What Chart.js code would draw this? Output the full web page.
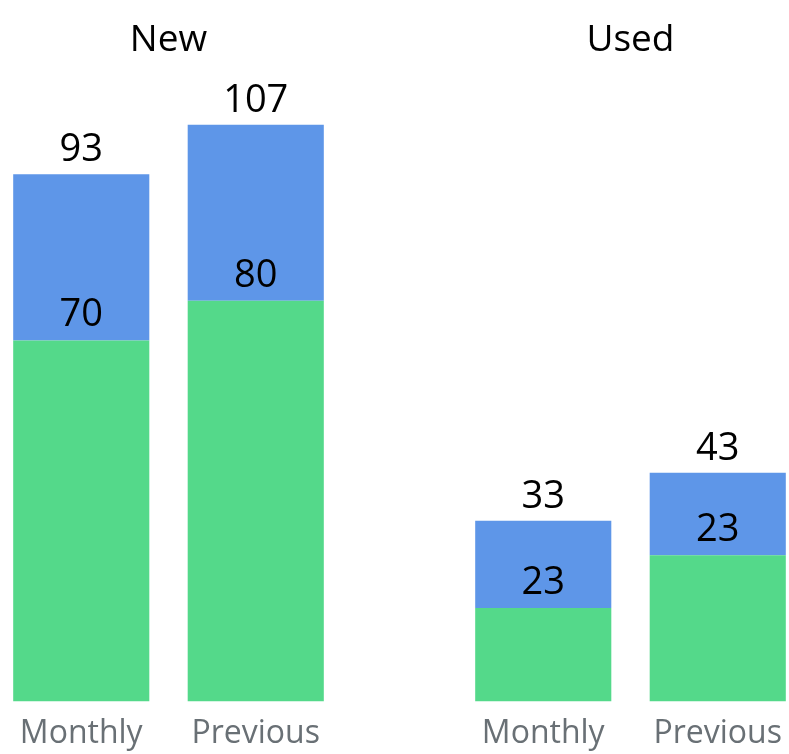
<!DOCTYPE html>
<html>
<head>
<meta charset="utf-8">
<script src="https://cdn.jsdelivr.net/npm/chart.js@4/dist/chart.umd.min.js"></script>
<style>
  html, body { margin: 0; padding: 0; background: #fff; overflow: hidden; width: 789px; height: 754px; }
  .wrap { position: absolute; top: 0; width: 349px; height: 766px; }
  #new-wrap { left: -6px; }
  #used-wrap { left: 456px; }
</style>
</head>
<body>
<div class="wrap" id="new-wrap"><canvas id="new-chart" width="349" height="766"></canvas></div>
<div class="wrap" id="used-wrap"><canvas id="used-chart" width="349" height="766"></canvas></div>
<script>
const categories = ["Monthly", "Previous"];
const groupTitles = ["New", "Used"];

// segment heights
const newGreen = [67.1, 74.5];
const newBlue = [30.9, 32.7];
const usedGreen = [17.4, 27.2];
const usedBlue = [16.2, 15.3];

// numbers printed on the bars
const newTotalLabels = ["93", "107"];
const newGreenLabels = ["70", "80"];
const usedTotalLabels = ["33", "43"];
const usedGreenLabels = ["23", "23"];

const FONT = "'Open Sans', sans-serif";

// draws the total above each bar and the green value just above the green part
const barLabels = {
    id: "barLabels",
    afterDatasetsDraw(chart, args, opts) {
        const ctx = chart.ctx;
        const green = chart.getDatasetMeta(0).data;
        const blue = chart.getDatasetMeta(1).data;
        ctx.save();
        ctx.font = "38px " + FONT;
        ctx.fillStyle = "#000";
        ctx.textAlign = "center";
        ctx.textBaseline = "alphabetic";
        green.forEach((bar, i) => {
            ctx.fillText(opts.greenLabels[i], bar.x, bar.y - 14);
            ctx.fillText(opts.totalLabels[i], blue[i].x, blue[i].y - 13);
        });
        ctx.restore();
    }
};

function makeChart(id, title, green, blue, totalLabels, greenLabels) {
    const ctx = document.getElementById(id).getContext("2d");
    return new Chart(ctx, {
        type: "bar",
        data: {
            labels: categories,
            datasets: [
                { data: green, backgroundColor: "#54D98A", borderWidth: 0 },
                { data: blue, backgroundColor: "#5E96E8", borderWidth: 0 }
            ]
        },
        options: {
            responsive: false,
            animation: false,
            categoryPercentage: 1,
            barPercentage: 0.78,
            layout: { padding: 0 },
            scales: {
                x: {
                    stacked: true,
                    offset: true,
                    grid: { display: false, drawTicks: false },
                    border: { display: false },
                    ticks: {
                        color: "#697075",
                        font: { family: FONT, size: 32 },
                        padding: 13,
                        maxRotation: 0,
                        autoSkip: false
                    }
                },
                y: { stacked: true, display: false, min: 0, max: 110 }
            },
            plugins: {
                legend: { display: false },
                tooltip: { enabled: false },
                title: {
                    display: true,
                    text: title,
                    color: "#000",
                    font: { family: FONT, size: 37, weight: "normal" },
                    padding: { top: 18, bottom: 47.2 }
                },
                barLabels: { totalLabels: totalLabels, greenLabels: greenLabels }
            }
        },
        plugins: [barLabels]
    });
}

makeChart("new-chart", groupTitles[0], newGreen, newBlue, newTotalLabels, newGreenLabels);
makeChart("used-chart", groupTitles[1], usedGreen, usedBlue, usedTotalLabels, usedGreenLabels);
</script>
</body>
</html>
